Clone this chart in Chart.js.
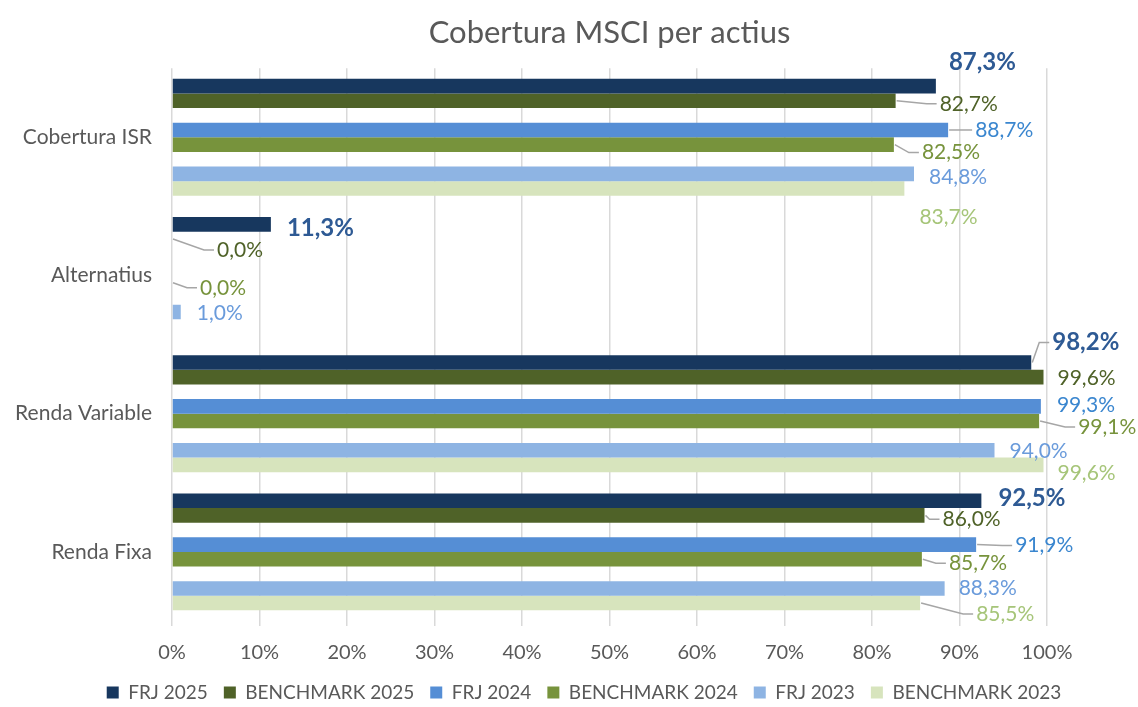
<!DOCTYPE html>
<html>
<head>
<meta charset="utf-8">
<script src="https://cdn.jsdelivr.net/npm/chart.js@4.4.1/dist/chart.umd.min.js"></script>
<style>
  html, body { margin: 0; padding: 0; background: #fff; }
  #wrap { width: 1138px; height: 707px; }
</style>
</head>
<body>
<div id="wrap"><canvas id="msciChart"></canvas></div>
<script>
// Categories and series values (percent)
const categories = ["Cobertura ISR", "Alternatius", "Renda Variable", "Renda Fixa"];
const seriesNames = ["FRJ 2025", "BENCHMARK 2025", "FRJ 2024", "BENCHMARK 2024", "FRJ 2023", "BENCHMARK 2023"];
const frj2025 = [87.3, 11.3, 98.2, 92.5];
const benchmark2025 = [82.7, 0.0, 99.6, 86.0];
const frj2024 = [88.7, null, 99.3, 91.9];
const benchmark2024 = [82.5, 0.0, 99.1, 85.7];
const frj2023 = [84.8, 1.0, 94.0, 88.3];
const benchmark2023 = [83.7, null, 99.6, 85.5];
const tickLabels = ["0%", "10%", "20%", "30%", "40%", "50%", "60%", "70%", "80%", "90%", "100%"];

// Colours for bars and their value labels
const barColors = ["#17375E", "#4F6228", "#558ED5", "#77933C", "#8EB4E3", "#D7E4BD"];
const labelColors = ["#2E5A94", "#4F6228", "#3A86CF", "#77933C", "#6A9BDB", "#A6C579"];

// Where each value label sits, relative to the end of its bar: [dx, dy, leader line]
const labelPlaces = [
    [[13, -24, 0], [16, 4, 0], [21, -20, 1], [17, -2, 0]],
    [[44, 3, 1], [45, 11, 1], [14, 1, 0], [18, 4, 1]],
    [[27, 0, 1], null, [16, -1, 0], [39, 1, 1]],
    [[28, 8, 1], [28, 5, 1], [39, 6, 1], [27, 4, 1]],
    [[15, 3, 0], [16, 1, 0], [15, 1, 0], [14, 0, 0]],
    [[15, 29, 0], null, [14, 8, 0], [56, 11, 1]]
];

const seriesValues = [frj2025, benchmark2025, frj2024, benchmark2024, frj2023, benchmark2023];

// Build datasets, with an empty spacer after each FRJ/BENCHMARK pair
const datasets = [];
seriesValues.forEach((values, k) => {
    datasets.push({
        label: seriesNames[k],
        data: values,
        backgroundColor: barColors[k],
        labelColor: labelColors[k],
        labelBold: k === 0,
        labelPlace: labelPlaces[k]
    });
    if (k === 1 || k === 3) {
        datasets.push({ label: "", data: categories.map(() => null), spacer: true });
    }
});

// Draw the value labels with their leader lines
const valueLabels = {
    id: "valueLabels",
    afterDatasetsDraw(chart) {
        const ctx = chart.ctx;
        ctx.save();
        chart.data.datasets.forEach((ds, i) => {
            if (ds.spacer) return;
            const meta = chart.getDatasetMeta(i);
            ds.data.forEach((v, j) => {
                if (v === null || !ds.labelPlace[j]) return;
                const bar = meta.data[j];
                const [dx, dy, leader] = ds.labelPlace[j];
                const tx = bar.x + dx;
                const ty = bar.y + dy;
                if (leader) {
                    ctx.strokeStyle = "#A6A6A6";
                    ctx.lineWidth = 1.5;
                    ctx.beginPath();
                    ctx.moveTo(bar.x + 1, bar.y);
                    ctx.lineTo(tx - 13, ty);
                    ctx.lineTo(tx - 3, ty);
                    ctx.stroke();
                }
                ctx.font = (ds.labelBold ? "bold 24px" : "21px") + " Lato";
                ctx.fillStyle = ds.labelColor;
                ctx.textAlign = "left";
                ctx.textBaseline = "middle";
                ctx.fillText(v.toFixed(1).replace(".", ",") + "%", tx, ty);
            });
        });
        ctx.restore();
    }
};

const ctx = document.getElementById("msciChart").getContext("2d");
new Chart(ctx, {
    type: "bar",
    data: { labels: categories, datasets: datasets },
    options: {
        indexAxis: "y",
        responsive: true,
        maintainAspectRatio: false,
        animation: false,
        categoryPercentage: 0.846,
        barPercentage: 1,
        layout: {
            padding: { top: 0, left: 12, right: -18, bottom: -5 }
        },
        plugins: {
            title: {
                display: true,
                text: "Cobertura MSCI per actius",
                fullSize: false,
                color: "#595959",
                font: { family: "Lato", size: 31, weight: "normal" },
                padding: { top: 14, bottom: 17 }
            },
            legend: {
                position: "bottom",
                labels: {
                    color: "#595959",
                    font: { family: "Lato", size: 19 },
                    boxWidth: 12,
                    boxHeight: 12,
                    padding: 16,
                    filter: (item, data) => !data.datasets[item.datasetIndex].spacer
                }
            },
            tooltip: { enabled: false }
        },
        scales: {
            x: {
                min: 0,
                max: 100,
                ticks: {
                    stepSize: 10,
                    color: "#595959",
                    font: { family: "Lato", size: 20 },
                    padding: 15,
                    callback: (value, index) => tickLabels[index]
                },
                grid: { color: "#D9D9D9", lineWidth: 1.5, tickLength: 5 },
                border: { display: false },
                afterFit: (scale) => { scale.height = 46; }
            },
            y: {
                ticks: {
                    color: "#595959",
                    font: { family: "Lato", size: 21 },
                    padding: 20
                },
                grid: { display: false, drawTicks: false },
                border: { display: false },
                afterFit: (scale) => { scale.width = 160; }
            },
            // empty right-hand box that leaves room for the value labels
            yRight: {
                type: "category",
                position: "right",
                labels: [],
                ticks: { display: false },
                grid: { display: false, drawTicks: false },
                border: { display: false },
                afterFit: (scale) => { scale.width = 109; }
            }
        }
    },
    plugins: [valueLabels]
});
</script>
</body>
</html>
